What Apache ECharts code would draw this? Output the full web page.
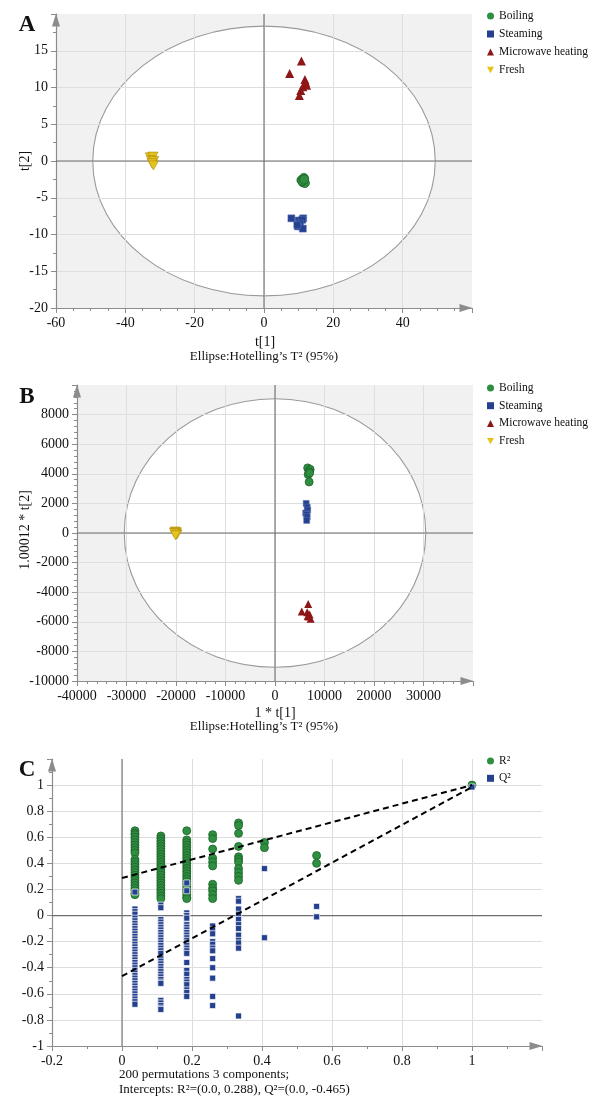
<!DOCTYPE html>
<html>
<head>
<meta charset="utf-8">
<script src="https://cdn.jsdelivr.net/npm/echarts@6/dist/echarts.min.js"></script>
<style>html,body{margin:0;padding:0;background:#fff}#c{width:602px;height:1100px}</style>
</head>
<body>
<div id="c"></div>
<script>
// ---------- Panel A (PCA scores) ----------
const groupNames = ['Boiling', 'Steaming', 'Microwave heating', 'Fresh'];
const aBoiling = [[11.5,-2.3],[10.8,-2.6],[11.2,-2.9],[11.8,-3.0],[11.0,-2.7],[11.6,-2.5]];
const aSteaming = [[7.9,-7.8],[10.0,-8.1],[11.3,-7.8],[11.0,-8.0],[10.4,-8.5],[9.8,-8.9],[11.2,-9.2],[9.6,-8.7]];
const aMicrowave = [[10.8,13.6],[7.4,11.9],[11.8,11.1],[12.0,10.7],[12.3,10.3],[11.2,10.1],[10.6,9.6],[10.2,8.9]];
const aFresh = [[-32.8,0.5],[-32.0,0.6],[-32.5,0.1],[-31.8,0.0],[-32.3,-0.3],[-31.9,-0.6]];
const aEllipse = [0, 0, 49.4, 18.35];           // centre x, centre y, semi-axis x, semi-axis y
const aXTicks = [-60, 60, 20];                  // min, max, interval
const aYTicks = [-20, 20, 5];

// ---------- Panel B (OPLS-DA scores) ----------
const bBoiling = [[6600,4400],[7100,4300],[6900,4150],[6700,3950],[7000,4050],[6900,3450]];
const bSteaming = [[6300,2000],[6500,1750],[6600,1550],[6200,1350],[6400,1250],[6500,1100],[6400,850]];
const bMicrowave = [[6700,-4800],[5400,-5300],[6500,-5350],[7000,-5500],[6800,-5650],[7200,-5800],[6600,-5600]];
const bFresh = [[-20200,100],[-19900,50],[-20000,-50],[-20300,0],[-19800,-100],[-20100,-150]];
const bEllipse = [0, 0, 30450, 9070];
const bXTicks = [-40000, 40000, 10000];
const bYTicks = [-10000, 10000, 2000];

// ---------- Panel C (permutation test) ----------
const permX = [0.037, 0.111, 0.185, 0.259, 0.333, 0.407, 0.556, 1];
const r2Cols = [
  [0.65,0.63,0.62,0.60,0.58,0.56,0.54,0.52,0.50,0.48,0.43,0.41,0.39,0.37,0.35,0.33,0.31,0.29,0.27,0.25,0.23,0.21,0.19,0.17,0.16],
  [0.61,0.59,0.57,0.55,0.53,0.51,0.49,0.47,0.45,0.43,0.41,0.39,0.37,0.35,0.33,0.31,0.29,0.27,0.25,0.23,0.21,0.19,0.17,0.15,0.13],
  [0.65,0.58,0.56,0.54,0.52,0.50,0.48,0.46,0.44,0.42,0.40,0.38,0.36,0.34,0.32,0.30,0.28,0.26,0.24,0.22,0.20,0.18,0.16,0.14,0.13],
  [0.62,0.59,0.51,0.44,0.41,0.38,0.24,0.21,0.19,0.16,0.13],
  [0.71,0.69,0.63,0.53,0.45,0.43,0.41,0.36,0.33,0.30,0.27],
  [0.56,0.52],
  [0.46,0.40],
  [1.0]
];
const q2Cols = [
  [0.18,0.05,0.03,0.01,-0.02,-0.04,-0.06,-0.08,-0.10,-0.12,-0.14,-0.16,-0.18,-0.20,-0.22,-0.24,-0.26,-0.28,-0.30,-0.32,-0.34,-0.36,-0.38,-0.40,-0.42,-0.44,-0.46,-0.48,-0.50,-0.52,-0.54,-0.56,-0.58,-0.60,-0.62,-0.64,-0.66,-0.68],
  [0.08,0.06,-0.03,-0.05,-0.07,-0.09,-0.11,-0.13,-0.15,-0.17,-0.19,-0.21,-0.23,-0.25,-0.27,-0.29,-0.33,-0.35,-0.37,-0.39,-0.41,-0.43,-0.45,-0.47,-0.49,-0.51,-0.52,-0.65,-0.67,-0.69,-0.71,-0.72],
  [0.25,0.19,0.02,0.00,-0.02,-0.07,-0.09,-0.11,-0.13,-0.15,-0.17,-0.19,-0.21,-0.23,-0.25,-0.27,-0.29,-0.36,-0.42,-0.45,-0.49,-0.51,-0.53,-0.57,-0.59,-0.62],
  [-0.08,-0.11,-0.14,-0.20,-0.22,-0.25,-0.27,-0.33,-0.40,-0.48,-0.62,-0.69],
  [0.13,0.11,0.05,0.01,-0.03,-0.07,-0.10,-0.15,-0.19,-0.21,-0.25,-0.77],
  [0.36,-0.17],
  [0.07,-0.01],
  [0.985]
];
const r2Line = [[0, 0.288], [1, 1.0]];
const q2Line = [[0, -0.465], [1, 0.985]];
const cXTicks = [-0.2, 1.2, 0.2];
const cYTicks = [-1, 1.2, 0.2];

// ---------- styling ----------
const SERIF = "'Liberation Serif','Times New Roman','DejaVu Serif',serif";
const AX = '#8c8c8c';
const GREEN = '#2e8f40', GREEN_B = '#1d6129';
const BLUE = '#24408e';
const RED = '#8e1616';
const YELLOW = '#e6c31c', YELLOW_B = '#a8890a';
const DOWN_TRI = 'path://M0,0 L10,0 L5,9 Z';

function toPts(cols) {
  const out = [];
  cols.forEach((col, i) => col.forEach(v => out.push([permX[i], v])));
  return out;
}

function axisCfg(grid, t, minorSplit) {
  return {
    gridIndex: grid, type: 'value', min: t[0], max: t[1], interval: t[2],
    axisLine: { show: true, onZero: false, lineStyle: { color: AX, width: 1.2 },
      symbol: ['none', 'triangle'], symbolSize: [8, 13], symbolOffset: [0, -6] },
    axisTick: { show: true, length: 5, lineStyle: { color: AX } },
    minorTick: { show: true, splitNumber: minorSplit, length: 3, lineStyle: { color: AX } },
    axisLabel: { showMaxLabel: false, fontFamily: SERIF, fontSize: 14, color: '#111', margin: 8,
      formatter: function (v) { return String(v); } },
    splitLine: { show: true, showMaxLine: false, showMinLine: false, lineStyle: { color: '#dedede' } }
  };
}

function bgRender(params, api) {
  const cs = params.coordSys;
  const c = api.coord([api.value(0), api.value(1)]);
  const s = api.size([api.value(2), api.value(3)]);
  return { type: 'group', children: [
    { type: 'rect', shape: { x: cs.x, y: cs.y, width: cs.width, height: cs.height }, style: { fill: '#f1f1f1' } },
    { type: 'ellipse', shape: { cx: c[0], cy: c[1], rx: s[0], ry: s[1] }, style: { fill: '#ffffff', stroke: '#9a9a9a', lineWidth: 1.1 } }
  ]};
}
function zeroRender(params, api) {
  const cs = params.coordSys;
  const c = api.coord([api.value(0), api.value(1)]);
  return { type: 'group', children: [
    { type: 'line', shape: { x1: c[0], y1: cs.y, x2: c[0], y2: cs.y + cs.height }, style: { stroke: '#7a7a7a', lineWidth: 1.2 } },
    { type: 'line', shape: { x1: cs.x, y1: c[1], x2: cs.x + cs.width, y2: c[1] }, style: { stroke: '#6e6e6e', lineWidth: 1.2 } }
  ]};
}

function groupSeries(ax, pts, kind, size) {
  const base = { type: 'scatter', xAxisIndex: ax, yAxisIndex: ax, data: pts, z: 4 };
  if (kind === 0) return Object.assign(base, { name: groupNames[0], symbol: 'circle', symbolSize: size,
    itemStyle: { color: GREEN, borderColor: GREEN_B, borderWidth: 0.8, opacity: 1 } });
  if (kind === 1) return Object.assign(base, { name: groupNames[1], symbol: 'rect', symbolSize: size - 2,
    itemStyle: { color: BLUE, borderColor: '#5d74b8', borderWidth: 0.5, opacity: 1 } });
  if (kind === 2) return Object.assign(base, { name: groupNames[2], symbol: 'triangle', symbolSize: size,
    itemStyle: { color: RED, opacity: 1 } });
  return Object.assign(base, { name: groupNames[3], symbol: DOWN_TRI, symbolSize: [size + 1, size],
    itemStyle: { color: YELLOW, borderColor: YELLOW_B, borderWidth: 0.6, opacity: 1 } });
}

function legendCfg(top, names, gap) {
  return { data: names, orient: 'vertical', left: 487, top: top, padding: 0, itemGap: gap,
    itemWidth: 7, itemHeight: 7, selectedMode: false,
    itemStyle: { borderWidth: 0 },
    textStyle: { fontFamily: SERIF, fontSize: 11.5, color: '#111', lineHeight: 14 } };
}

function txt(x, y, text, opts) {
  return Object.assign({ type: 'text', x: x, y: y, silent: true,
    style: Object.assign({ text: text, fontFamily: SERIF, fontSize: 13, fill: '#111', align: 'center', verticalAlign: 'middle' }, opts && opts.style || {}) },
    opts && opts.el || {});
}

const chart = echarts.init(document.getElementById('c'), null, { renderer: 'canvas' });
chart.setOption({
  animation: false,
  backgroundColor: '#fff',
  grid: [
    { left: 56, top: 14, width: 416, height: 294 },
    { left: 77, top: 385, width: 396, height: 296 },
    { left: 52, top: 759, width: 490, height: 287 }
  ],
  xAxis: [axisCfg(0, aXTicks, 4), axisCfg(1, bXTicks, 5), axisCfg(2, cXTicks, 2)],
  yAxis: [axisCfg(0, aYTicks, 2), axisCfg(1, bYTicks, 5), axisCfg(2, cYTicks, 2)],
  legend: [
    legendCfg(9, groupNames, 4),
    legendCfg(381, groupNames, 3.7),
    legendCfg(754, ['R²', 'Q²'], 3.3)
  ],
  graphic: [
    txt(27, 25, 'A', { style: { fontSize: 23, fontWeight: 'bold' } }),
    txt(27, 397, 'B', { style: { fontSize: 23, fontWeight: 'bold' } }),
    txt(27, 770, 'C', { style: { fontSize: 23, fontWeight: 'bold' } }),
    txt(265, 342, 't[1]', { style: { fontSize: 14 } }),
    txt(264, 357, 'Ellipse:Hotelling’s T² (95%)'),
    txt(25, 161, 't[2]', { el: { rotation: Math.PI / 2 }, style: { fontSize: 14 } }),
    txt(275, 713, '1 * t[1]', { style: { fontSize: 14 } }),
    txt(264, 727, 'Ellipse:Hotelling’s T² (95%)'),
    txt(25, 530, '1.00012 * t[2]', { el: { rotation: Math.PI / 2 }, style: { fontSize: 14 } }),
    txt(119, 1075, '200 permutations 3 components;', { style: { align: 'left' } }),
    txt(119, 1090, 'Intercepts: R²=(0.0, 0.288), Q²=(0.0, -0.465)', { style: { align: 'left' } })
  ],
  series: [
    { type: 'custom', xAxisIndex: 0, yAxisIndex: 0, z: -1, silent: true, renderItem: bgRender, data: [aEllipse] },
    { type: 'custom', xAxisIndex: 0, yAxisIndex: 0, z: 1, silent: true, renderItem: zeroRender, data: [[0, 0]] },
    groupSeries(0, aBoiling, 0, 9),
    groupSeries(0, aSteaming, 1, 9),
    groupSeries(0, aMicrowave, 2, 9),
    groupSeries(0, aFresh, 3, 9),

    { type: 'custom', xAxisIndex: 1, yAxisIndex: 1, z: -1, silent: true, renderItem: bgRender, data: [bEllipse] },
    { type: 'custom', xAxisIndex: 1, yAxisIndex: 1, z: 1, silent: true, renderItem: zeroRender, data: [[0, 0]] },
    groupSeries(1, bBoiling, 0, 8),
    groupSeries(1, bSteaming, 1, 8),
    groupSeries(1, bMicrowave, 2, 8),
    groupSeries(1, bFresh, 3, 9),

    { type: 'custom', xAxisIndex: 2, yAxisIndex: 2, z: 1, silent: true, renderItem: zeroRender, data: [[0, 0]] },
    { type: 'scatter', name: 'R²', xAxisIndex: 2, yAxisIndex: 2, z: 4, data: toPts(r2Cols), symbol: 'circle', symbolSize: 8,
      itemStyle: { color: GREEN, borderColor: GREEN_B, borderWidth: 0.8, opacity: 1 } },
    { type: 'scatter', name: 'Q²', xAxisIndex: 2, yAxisIndex: 2, z: 4, data: toPts(q2Cols), symbol: 'rect', symbolSize: 6,
      itemStyle: { color: BLUE, borderColor: '#ffffff', borderWidth: 0.7, opacity: 1 } },
    { type: 'line', xAxisIndex: 2, yAxisIndex: 2, z: 5, data: r2Line, symbol: 'none', silent: true,
      lineStyle: { color: '#000', width: 2, type: [6, 4] } },
    { type: 'line', xAxisIndex: 2, yAxisIndex: 2, z: 5, data: q2Line, symbol: 'none', silent: true,
      lineStyle: { color: '#000', width: 2, type: [6, 4] } }
  ]
});
</script>
</body>
</html>
